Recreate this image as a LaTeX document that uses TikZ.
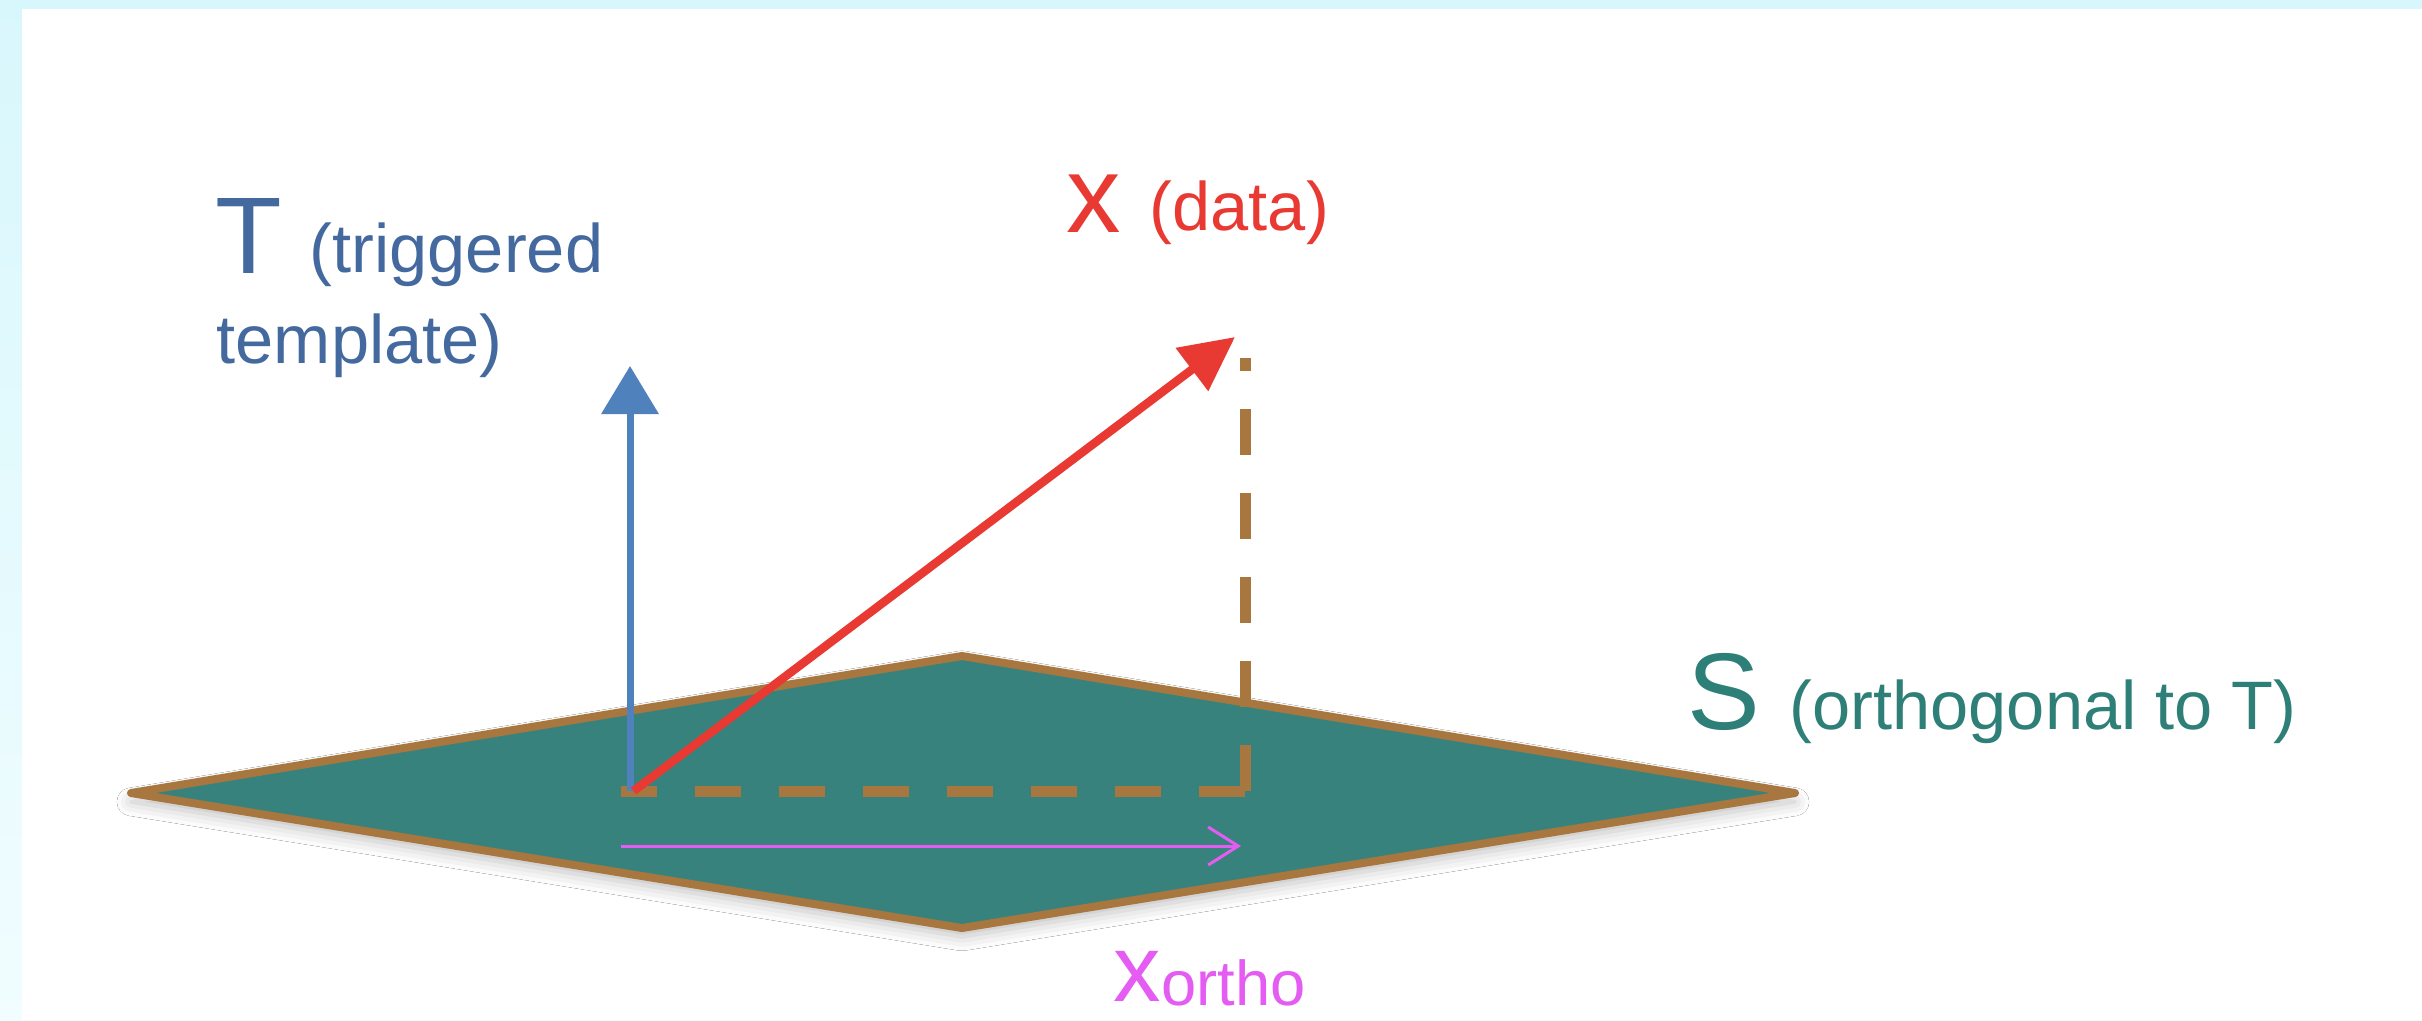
\documentclass[tikz,border=0pt]{standalone}
\usepackage{fontspec}
\setmainfont{Liberation Sans}
\usetikzlibrary{arrows.meta,shadows.blur}
\definecolor{FrameCyan}{HTML}{D8F7FC}
\definecolor{FrameLight}{HTML}{F1FDFF}
\definecolor{PlaneTeal}{HTML}{37827D}
\definecolor{EdgeBrown}{HTML}{A8773F}
\definecolor{VecBlue}{HTML}{4F81BD}
\definecolor{TextBlue}{HTML}{44699F}
\definecolor{VecRed}{HTML}{E83A33}
\definecolor{VecPink}{HTML}{E45CF2}
\definecolor{TextTeal}{HTML}{2E7F78}

\tikzset{
	lbl/.style={inner sep=0pt, anchor=base west},
	bigsym/.style={lbl, font=\fontsize{31}{31}\selectfont},
	note/.style={lbl, font=\fontsize{19.5}{24}\selectfont},
	proj/.style={draw=EdgeBrown, line width=0.11cm, dash pattern=on 0.46cm off 0.38cm},
}

\begin{document}
\begin{tikzpicture}[x=0.01cm, y=-0.01cm]
		% frame round the slide
		\shade[top color=FrameCyan, bottom color=FrameLight] (0,0) rectangle (2422,1020);
		\fill[white] (22,9) rectangle (2422,1020);
		\useasboundingbox (0,0) rectangle (2422,1020);
		
		% the plane S
		\coordinate (L) at (131,793);
		\coordinate (Tp) at (962,656);
		\coordinate (R) at (1795,793);
		\coordinate (B) at (962,928);
		\filldraw[fill=PlaneTeal, draw=EdgeBrown, line width=0.08cm, line join=round,
			blur shadow={shadow xshift=0pt, shadow yshift=-2.5pt, shadow opacity=25, shadow blur radius=4pt}]
			(L) -- (Tp) -- (R) -- (B) -- cycle;
		
		% vectors
		\coordinate (O) at (630,791);
		\coordinate (Ttip) at (630,366);
		\coordinate (xtip) at (1235,337);
		\coordinate (corner) at (1245,791);
		\coordinate (dtop) at (1245,358);
		\coordinate (dleft) at (621,791);
		\coordinate (ostart) at (621,846);
		\coordinate (oend) at (1241,846);
		
		\draw[proj] (corner) -- (dtop);
		\draw[proj] (corner) -- (dleft);
		\draw[-{Triangle[length=0.48cm, width=0.56cm]}, VecBlue, line width=0.07cm] (O) -- (Ttip);
		\draw[-{Triangle[length=0.54cm, width=0.52cm]}, VecRed, line width=0.085cm] ([xshift=1pt]O) -- (xtip);
		\draw[-{Straight Barb[length=0.3cm, width=0.38cm]}, VecPink, line width=0.03cm] (ostart) -- (oend);
		
		% labels
		\node[bigsym, TextBlue] (Tsym) at (215,273) {T};
		\node[note, TextBlue] (Tnote) at (309,272) {(triggered};
		\node[note, TextBlue] (Tnote2) at (216,363) {template)};
		\node[bigsym, VecRed] (xsym) at (1066,232) {x};
		\node[note, VecRed] (xnote) at (1149,230) {(data)};
		\node[bigsym, TextTeal] (Ssym) at (1687,729) {S};
		\node[note, TextTeal] (Snote) at (1789,729) {(orthogonal to T)};
		\node[lbl, VecPink] (xortho) at (1113,1001) {{\fontsize{27}{27}\selectfont x}{\fontsize{18}{18}\selectfont\raisebox{-1.4pt}{ortho}}};
	\end{tikzpicture}
\end{document}
